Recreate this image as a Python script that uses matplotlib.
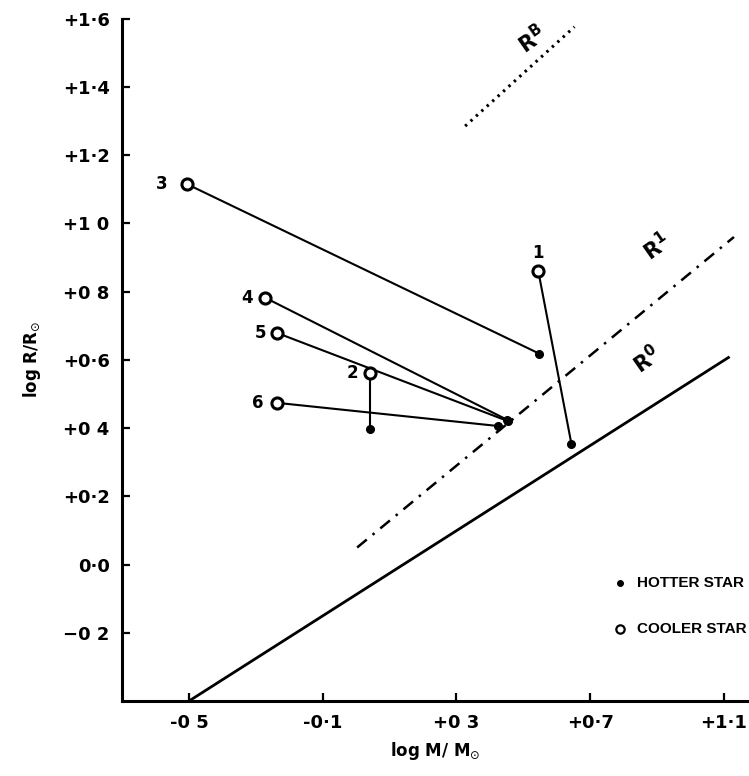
import matplotlib
matplotlib.use('Agg')
import matplotlib.pyplot as plt

# tick values and their printed labels
x_ticks = [-0.5, -0.1, 0.3, 0.7, 1.1]
x_labels = ['-0 5', '-0·1', '+0 3', '+0·7', '+1·1']
y_ticks = [-0.2, 0.0, 0.2, 0.4, 0.6, 0.8, 1.0, 1.2, 1.4, 1.6]
y_labels = ['\u22120 2', '0·0', '+0·2', '+0 4', '+0·6', '+0 8', '+1 0', '+1·2', '+1·4', '+1·6']

# binary systems: cooler (open circle) and hotter (dot) component
star_ids = ['1', '2', '3', '4', '5', '6']
cool_x = [0.545, 0.042, -0.506, -0.272, -0.237, -0.237]
cool_y = [0.859, 0.562, 1.115, 0.782, 0.679, 0.474]
hot_x = [0.644, 0.042, 0.548, 0.452, 0.455, 0.425]
hot_y = [0.353, 0.397, 0.618, 0.424, 0.420, 0.406]

# reference relations (end points)
r0_x = [-0.5, 1.117]
r0_y = [-0.4, 0.609]
r1_x = [0.003, 1.13]
r1_y = [0.05, 0.96]
rb_x = [0.326, 0.653]
rb_y = [1.285, 1.576]

fig = plt.figure(figsize=(7.49, 7.76), dpi=100)
ax = fig.add_axes([0.163, 0.0966, 0.837, 0.8794])

for i in range(len(star_ids)):
    ax.plot([cool_x[i], hot_x[i]], [cool_y[i], hot_y[i]], color='black', lw=1.5, zorder=2)
ax.plot(hot_x, hot_y, 'o', color='black', ms=5.5, zorder=3)
ax.plot(cool_x, cool_y, 'o', mfc='white', mec='black', mew=2.2, ms=8, zorder=4)

# star numbers (offset in points from the cooler star)
offs = {'1': (0, 13), '2': (-13, 0), '3': (-18, 0), '4': (-13, 0), '5': (-12, 0), '6': (-14, 0)}
for i, s in enumerate(star_ids):
    ax.annotate(s, (cool_x[i], cool_y[i]), xytext=offs[s], textcoords='offset points',
                ha='center', va='center', fontsize=12, fontweight='bold')

ax.plot(r0_x, r0_y, color='black', lw=2.0, solid_capstyle='butt', zorder=1)
ax.plot(r1_x, r1_y, color='black', lw=1.8, linestyle=(0, (5, 3, 1, 3)), zorder=1)
ax.plot(rb_x, rb_y, color='black', lw=2.2, linestyle=(0, (0.8, 1.6)), zorder=1)

ax.text(0.87, 0.60, r'$\mathbf{R}^{\mathbf{0}}$', rotation=35, ha='center', va='center', fontsize=15)
ax.text(0.90, 0.93, r'$\mathbf{R}^{\mathbf{1}}$', rotation=35, ha='center', va='center', fontsize=15)
ax.text(0.525, 1.54, r'$\mathbf{R}^{\mathbf{B}}$', rotation=35, ha='center', va='center', fontsize=15)

# legend drawn as text
ax.plot([0.79], [-0.053], 'o', color='black', ms=4, clip_on=False)
ax.text(0.84, -0.053, 'HOTTER STAR', ha='left', va='center', fontsize=11,
        fontweight='bold', family='Liberation Sans')
ax.plot([0.79], [-0.188], 'o', mfc='white', mec='black', mew=1.6, ms=6, clip_on=False)
ax.text(0.84, -0.188, 'COOLER STAR', ha='left', va='center', fontsize=11,
        fontweight='bold', family='Liberation Sans')

ax.set_xlim(-0.70, 1.175)
ax.set_ylim(-0.4, 1.6)
ax.set_xticks(x_ticks, x_labels)
ax.set_yticks(y_ticks, y_labels)
ax.tick_params(direction='in', length=6, width=1.6, labelsize=13, pad=9)
for lab in ax.get_xticklabels() + ax.get_yticklabels():
    lab.set_fontweight('bold')
ax.spines['top'].set_visible(False)
ax.spines['right'].set_visible(False)
ax.spines['left'].set_linewidth(2.2)
ax.spines['bottom'].set_linewidth(2.2)

ax.set_xlabel(r'log M/ M$_{\odot}$', fontsize=12, fontweight='bold', labelpad=6)
ax.set_ylabel(r'log R/R$_{\odot}$', fontsize=12, fontweight='bold', labelpad=14)

fig.savefig('out.png', dpi=100)
